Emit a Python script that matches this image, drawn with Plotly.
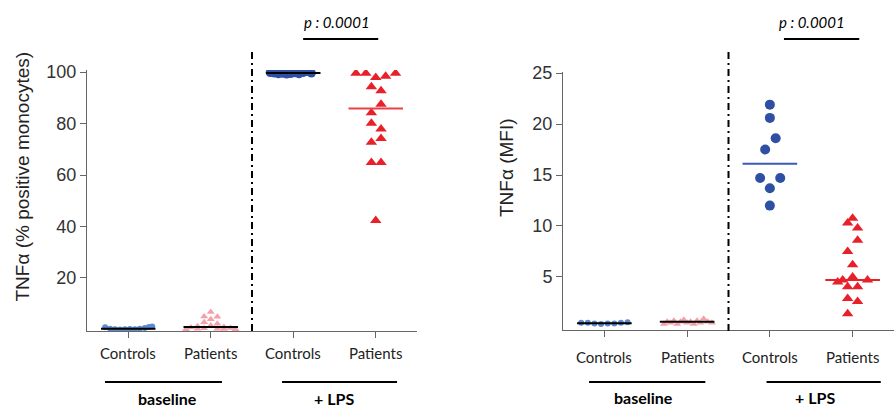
import numpy as np
import plotly.graph_objects as go

# ---------------- data ----------------
group_labels = ["Controls", "Patients", "Controls", "Patients"]
condition_labels = ["baseline", "+ LPS"]
p_text = "p : 0.0001"

left_title = "TNFα (% positive monocytes)"
right_title = "TNFα (MFI)"
left_ticks = [20, 40, 60, 80, 100]
right_ticks = [5, 10, 15, 20, 25]

# Left panel: % TNFα positive monocytes
pct_base_ctrl = [0.9, 0.3, 0.1, 0.0, 0.1, 0.2, 0.1, 0.3, 0.6, 1.0, 1.1]
pct_base_pat = [6.8, 5.0, 4.9, 4.0, 2.8, 2.2, 1.5, 1.2, 1.0, 0.8, 0.6, 0.5, 0.3, 0.3, 0.2, 0.1, 0.1]
pct_lps_ctrl = [99.8, 99.6, 99.3, 99.5, 99.2, 99.4, 99.7, 99.3, 99.8, 100.2, 99.6]
pct_lps_pat = [99.5, 99.5, 97.9, 98.4, 99.5, 94.3, 92.7, 87.5, 84.2, 80.1, 77.9, 74.2, 72.7, 64.9, 64.9, 42.3]

# Right panel: TNFα MFI
mfi_base_ctrl = [0.5, 0.5, 0.45, 0.4, 0.45, 0.45, 0.5, 0.55]
mfi_base_pat = [0.4, 0.6, 0.5, 0.7, 0.4, 0.6, 0.8, 0.5, 0.6, 0.4, 0.7, 0.5, 0.9, 0.6, 0.5]
mfi_lps_ctrl = [21.9, 20.6, 18.6, 17.5, 14.7, 14.7, 13.7, 12.0]
mfi_lps_pat = [10.75, 10.3, 9.8, 8.6, 7.5, 6.2, 5.0, 4.5, 4.7, 4.7, 4.05, 4.05, 2.9, 2.6, 1.4]

# ---------------- layout helpers (jitter offsets, not data) ----------------
off_pct_base_ctrl = [-0.28, -0.22, -0.16, -0.1, -0.04, 0.02, 0.08, 0.14, 0.2, 0.25, 0.29]
off_pct_base_pat = [0, -0.08, 0.08, 0, -0.08, 0.08, 0, -0.16, 0.16, -0.24, 0.24, -0.08, 0.08, -0.16, 0.16, -0.3, 0.3]
off_pct_lps_ctrl = [-0.28, -0.23, -0.18, -0.13, -0.08, -0.03, 0.02, 0.07, 0.12, 0.17, 0.22]
off_pct_lps_pat = [-0.24, -0.12, 0, 0.12, 0.24, -0.053, 0.064, 0.064, -0.053, -0.053, 0.064, 0.064, -0.053, -0.053, 0.064, 0]

off_mfi_base_ctrl = [-0.28, -0.2, -0.12, -0.04, 0.04, 0.12, 0.2, 0.28]
off_mfi_base_pat = [-0.28, -0.24, -0.2, -0.16, -0.12, -0.08, -0.04, 0, 0.04, 0.08, 0.12, 0.16, 0.2, 0.25, 0.3]
off_mfi_lps_ctrl = [0, 0, 0.07, -0.057, -0.118, 0.125, 0, 0]
off_mfi_lps_pat = [0, -0.06, 0.06, 0.06, -0.06, 0, 0, -0.18, -0.12, 0.18, -0.06, 0.06, -0.06, 0.06, -0.06]

C_LBLUE = "#5b8bd0"
C_PINK = "#f4a0a8"
C_BLUE = "#2f4fa5"
C_RED = "#e8202a"

W, H = 896, 409


def px_x(p):
    return p / W


def px_y(p):
    return (H - p) / H


fig = go.Figure()


def add_group(vals, offs, pos, color, symbol, size, xa, ya, line_color, half=0.33):
    xs = [pos + o for o in offs]
    fig.add_trace(go.Scatter(
        x=xs, y=vals, mode="markers", xaxis=xa, yaxis=ya, showlegend=False,
        marker=dict(color=color, symbol=symbol, size=size, line=dict(width=0)),
        hoverinfo="y"))
    med = float(np.median(vals))
    fig.add_trace(go.Scatter(
        x=[pos - half, pos + half], y=[med, med], mode="lines", xaxis=xa, yaxis=ya,
        showlegend=False, line=dict(color=line_color, width=2), hoverinfo="skip"))


# left panel
add_group(pct_base_ctrl, off_pct_base_ctrl, 1, C_LBLUE, "circle", 6, "x", "y", "black")
add_group(pct_base_pat, off_pct_base_pat, 2, C_PINK, "triangle-up", 7, "x", "y", "black")
add_group(pct_lps_ctrl, off_pct_lps_ctrl, 3, C_BLUE, "circle", 9, "x", "y", "black")
add_group(pct_lps_pat, off_pct_lps_pat, 4, C_RED, "triangle-up", 10, "x", "y", "#e84048")

# right panel
add_group(mfi_base_ctrl, off_mfi_base_ctrl, 1, C_LBLUE, "circle", 6, "x2", "y2", "black")
add_group(mfi_base_pat, off_mfi_base_pat, 2, C_PINK, "triangle-up", 7, "x2", "y2", "black")
add_group(mfi_lps_ctrl, off_mfi_lps_ctrl, 3, C_BLUE, "circle", 10, "x2", "y2", "#3a5bb5")
add_group(mfi_lps_pat, off_mfi_lps_pat, 4, C_RED, "triangle-up", 10, "x2", "y2", C_RED)

axis_common = dict(showgrid=False, zeroline=False, showline=True, linecolor="#666666",
                   linewidth=1, ticks="outside", ticklen=6, tickcolor="#666666", tickwidth=1,
                   automargin=False)

fig.update_layout(
    template="none",
    width=W, height=H, margin=dict(l=0, r=0, t=0, b=0, pad=0, autoexpand=False),
    paper_bgcolor="white", plot_bgcolor="white",
    xaxis=dict(domain=[px_x(87), px_x(417)], range=[0.5, 4.5], tickvals=[1, 2, 3, 4],
               showticklabels=False, anchor="y", **axis_common),
    yaxis=dict(domain=[px_y(331), px_y(70)], range=[-0.6, 100.8], tickvals=left_ticks,
               tickfont=dict(family="Liberation Sans, Arial", size=18, color="#333333"),
               anchor="x", **axis_common),
    xaxis2=dict(domain=[px_x(563), px_x(894)], range=[0.5, 4.5], tickvals=[1, 2, 3, 4],
                showticklabels=False, anchor="y2", **axis_common),
    yaxis2=dict(domain=[px_y(329.5), px_y(72)], range=[-0.15, 25.1], tickvals=right_ticks,
                tickfont=dict(family="Liberation Sans, Arial", size=18, color="#333333"),
                anchor="x2", **axis_common),
)

shapes = []
annotations = []

# dash-dot separators
for xr in ["x", "x2"]:
    shapes.append(dict(type="line", xref=xr, yref="paper", x0=2.5, x1=2.5,
                       y0=px_y(331), y1=px_y(48),
                       line=dict(color="black", width=2, dash="7px,4px,2px,4px")))

# p-value brackets
for xr, x0, x1, xt in [("x", 3.12, 4.03, 3.53), ("x2", 3.17, 4.08, 3.506)]:
    shapes.append(dict(type="line", xref=xr, yref="paper", x0=x0, x1=x1,
                       y0=px_y(39), y1=px_y(39), line=dict(color="black", width=2)))
    annotations.append(dict(xref=xr, yref="paper", x=xt, y=px_y(22), text="<i>" + p_text + "</i>",
                            showarrow=False, xanchor="center", yanchor="middle",
                            font=dict(family="Lato, Open Sans", size=15, color="black")))

# category labels
for xr, yc in [("x", 353), ("x2", 357)]:
    for i, lab in enumerate(group_labels):
        annotations.append(dict(xref=xr, yref="paper", x=i + 1, y=px_y(yc), text=lab,
                                showarrow=False, xanchor="center", yanchor="middle",
                                font=dict(family="Lato, Open Sans", size=15, color="#222222")))

# condition lines and labels
cond_geo = [
    ("x", (0.718, 2.136), (2.864, 4.258), (1.476, 3.494), 398.5),
    ("x2", (0.815, 2.22), (2.96, 4.34), (1.476, 3.54), 397),
]
for xr, seg1, seg2, centers, yl in cond_geo:
    for seg in (seg1, seg2):
        shapes.append(dict(type="line", xref=xr, yref="paper", x0=seg[0], x1=seg[1],
                           y0=px_y(382), y1=px_y(382), line=dict(color="black", width=2)))
    for cx, lab in zip(centers, condition_labels):
        annotations.append(dict(xref=xr, yref="paper", x=cx, y=px_y(yl), text="<b>" + lab + "</b>",
                                showarrow=False, xanchor="center", yanchor="middle",
                                font=dict(family="Lato, Open Sans", size=16, color="black")))

# y-axis titles
annotations.append(dict(xref="paper", yref="paper", x=px_x(22), y=px_y(176.5), text=left_title,
                        textangle=-90, showarrow=False, xanchor="center", yanchor="middle",
                        font=dict(family="Liberation Sans, Arial", size=19, color="#222222")))
annotations.append(dict(xref="paper", yref="paper", x=px_x(506), y=px_y(168), text=right_title,
                        textangle=-90, showarrow=False, xanchor="center", yanchor="middle",
                        font=dict(family="Liberation Sans, Arial", size=19, color="#222222")))

fig.update_layout(shapes=shapes, annotations=annotations)
fig.write_html(
    "out.html",
    config={"displayModeBar": False},
    post_script="document.body.style.margin='0';document.body.style.padding='0';"
                "document.body.style.overflow='hidden';",
)
